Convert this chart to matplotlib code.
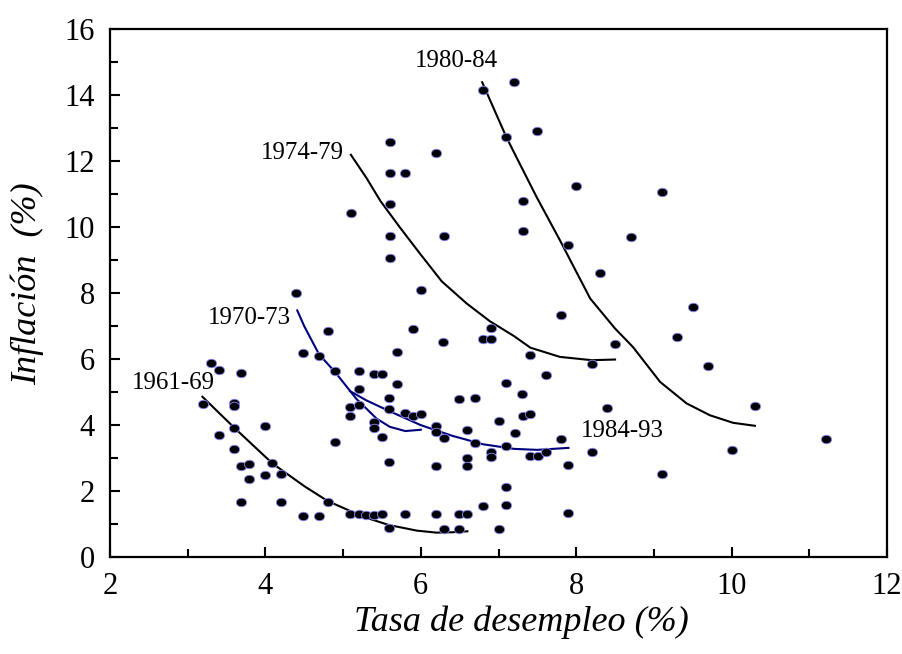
import numpy as np
import matplotlib
matplotlib.use('Agg')
import matplotlib.pyplot as plt
from matplotlib.path import Path

plt.rcParams['font.family'] = ['Liberation Serif', 'DejaVu Serif']

# puntos (desempleo, inflacion)
desempleo = [3.30, 3.40, 3.69, 3.20, 3.60, 3.60, 3.60, 3.99, 3.40, 3.60, 3.69, 3.79, 4.09, 3.79,
             3.99, 4.20, 3.69, 4.20, 4.49, 4.69, 4.80, 5.09, 5.20, 5.29, 5.40, 5.50, 5.59, 4.80,
             4.49, 4.69, 4.90, 5.20, 5.40, 5.50, 5.20, 5.09, 5.21, 5.09, 5.40, 5.40, 5.50, 4.90,
             5.59, 5.59, 5.59, 5.90, 6.29, 5.70, 6.80, 6.90, 6.90, 7.41, 8.20, 8.50, 5.70, 7.61,
             7.10, 7.30, 6.49, 6.70, 5.80, 5.90, 6.00, 7.31, 7.41, 7.00, 8.40, 6.20, 6.20, 6.60,
             7.21, 6.30, 6.70, 7.80, 7.10, 6.90, 6.90, 7.41, 7.51, 7.61, 8.20, 6.20, 6.60, 6.60,
             7.90, 7.10, 6.80, 7.10, 5.80, 6.20, 6.49, 6.60, 7.90, 6.30, 6.49, 7.00, 7.20, 6.80,
             5.60, 7.50, 7.10, 6.20, 5.60, 5.80, 8.00, 5.60, 7.31, 5.60, 6.30, 7.31, 8.70, 7.90,
             5.60, 8.30, 6.00, 7.80, 5.10, 4.40, 9.50, 9.30, 9.70, 10.30, 10.00, 9.10, 11.21, 9.10]
inflacion = [5.89, 5.67, 5.59, 4.63, 4.68, 4.58, 3.92, 3.96, 3.70, 3.29, 2.77, 2.82, 2.84, 2.38,
             2.48, 2.51, 1.67, 1.67, 1.25, 1.25, 1.68, 1.30, 1.30, 1.26, 1.26, 1.30, 0.87, 6.85,
             6.19, 6.09, 5.65, 5.65, 5.55, 5.55, 5.09, 4.55, 4.61, 4.28, 4.10, 3.92, 3.63, 3.49,
             4.83, 4.48, 2.89, 6.91, 6.52, 6.21, 6.61, 6.61, 6.96, 6.13, 5.84, 6.46, 5.24, 5.52,
             5.29, 4.95, 4.80, 4.83, 4.38, 4.28, 4.33, 4.28, 4.34, 4.13, 4.52, 3.97, 3.80, 3.85,
             3.77, 3.61, 3.47, 3.57, 3.37, 3.17, 3.03, 3.06, 3.07, 3.18, 3.18, 2.75, 3.01, 2.77,
             2.80, 2.13, 1.55, 1.58, 1.30, 1.29, 1.31, 1.29, 1.34, 0.86, 0.86, 0.86, 14.42, 14.17,
             12.59, 12.92, 12.74, 12.24, 11.65, 11.65, 11.25, 10.72, 10.81, 9.73, 9.74, 9.89, 9.70, 9.46,
             9.08, 8.62, 8.11, 7.34, 10.42, 8.00, 7.58, 6.67, 5.78, 4.59, 3.25, 2.52, 3.58, 11.06]

# curvas por periodo
c6169_x = [3.19, 3.60, 4.09, 4.50, 4.80, 5.26, 5.59, 5.95, 6.20, 6.40, 6.60]
c6169_y = [4.86, 3.92, 2.84, 2.15, 1.70, 1.22, 0.97, 0.80, 0.74, 0.75, 0.78]
c7073_x = [4.41, 4.50, 4.69, 4.90, 5.17, 5.43, 5.60, 5.80, 6.00]
c7073_y = [7.48, 7.00, 6.15, 5.60, 4.80, 4.20, 3.95, 3.82, 3.86]
c7479_x = [5.10, 5.30, 5.48, 5.73, 5.99, 6.27, 6.59, 6.89, 7.20, 7.41, 7.79, 8.20, 8.50]
c7479_y = [12.20, 11.50, 10.80, 10.00, 9.20, 8.36, 7.69, 7.15, 6.70, 6.35, 6.07, 5.97, 5.99]
c8084_x = [6.79, 7.10, 7.23, 7.49, 7.79, 8.18, 8.50, 8.73, 9.08, 9.42, 9.72, 10.02, 10.30]
c8084_y = [14.40, 12.74, 12.13, 10.92, 9.61, 7.84, 6.93, 6.37, 5.31, 4.66, 4.30, 4.07, 3.98]
c8493_x = [5.09, 5.30, 5.60, 6.00, 6.40, 6.80, 7.20, 7.50, 7.90]
c8493_y = [5.03, 4.75, 4.42, 4.00, 3.68, 3.42, 3.28, 3.25, 3.31]

etiquetas = ['1961-69', '1970-73', '1974-79', '1980-84', '1984-93']
etq_x = [2.81, 3.80, 4.48, 6.46, 8.59]
etq_y = [5.28, 7.24, 12.25, 15.05, 3.82]

# marcador eliptico (un poco mas ancho que alto)
circ = Path.unit_circle()
elipse = Path(circ.vertices * np.array([1.2, 1.0]), circ.codes)

fig = plt.figure(figsize=(9.03, 6.54), dpi=100)
ax = fig.add_axes([0.1218, 0.1483, 0.8605, 0.8066])

ax.plot(desempleo, inflacion, linestyle='none', marker=elipse, ms=7.4,
        mfc='black', mec='#8c8cff', mew=0.6, zorder=3)

ax.plot(c6169_x, c6169_y, color='black', lw=1.5)
ax.plot(c7073_x, c7073_y, color='#00007f', lw=1.5)
ax.plot(c7479_x, c7479_y, color='black', lw=1.5)
ax.plot(c8084_x, c8084_y, color='black', lw=1.5)
ax.plot(c8493_x, c8493_y, color='#00007f', lw=1.5)

for t, x, y in zip(etiquetas, etq_x, etq_y):
    ax.text(x, y, t, fontsize=18, ha='center', va='center')

ax.set_xlim(2, 12)
ax.set_ylim(0, 16)
ax.set_xticks(range(2, 13, 2))
ax.set_xticks(range(3, 12, 2), minor=True)
ax.set_yticks(range(0, 17, 2))
ax.set_yticks(range(1, 16, 2), minor=True)
ax.tick_params(which='both', direction='in', width=1.5, labelsize=22, pad=11)
ax.tick_params(which='major', length=7.5)
ax.tick_params(which='minor', length=5.5)

for s in ax.spines.values():
    s.set_linewidth(1.6)

ax.set_xlabel('Tasa de desempleo (%)', fontsize=26, style='italic')
ax.xaxis.set_label_coords(0.53, -0.092)
ax.set_ylabel('Inflación  (%)', fontsize=26, style='italic')
ax.yaxis.set_label_coords(-0.085, 0.518)

fig.savefig('out.png', dpi=100)
